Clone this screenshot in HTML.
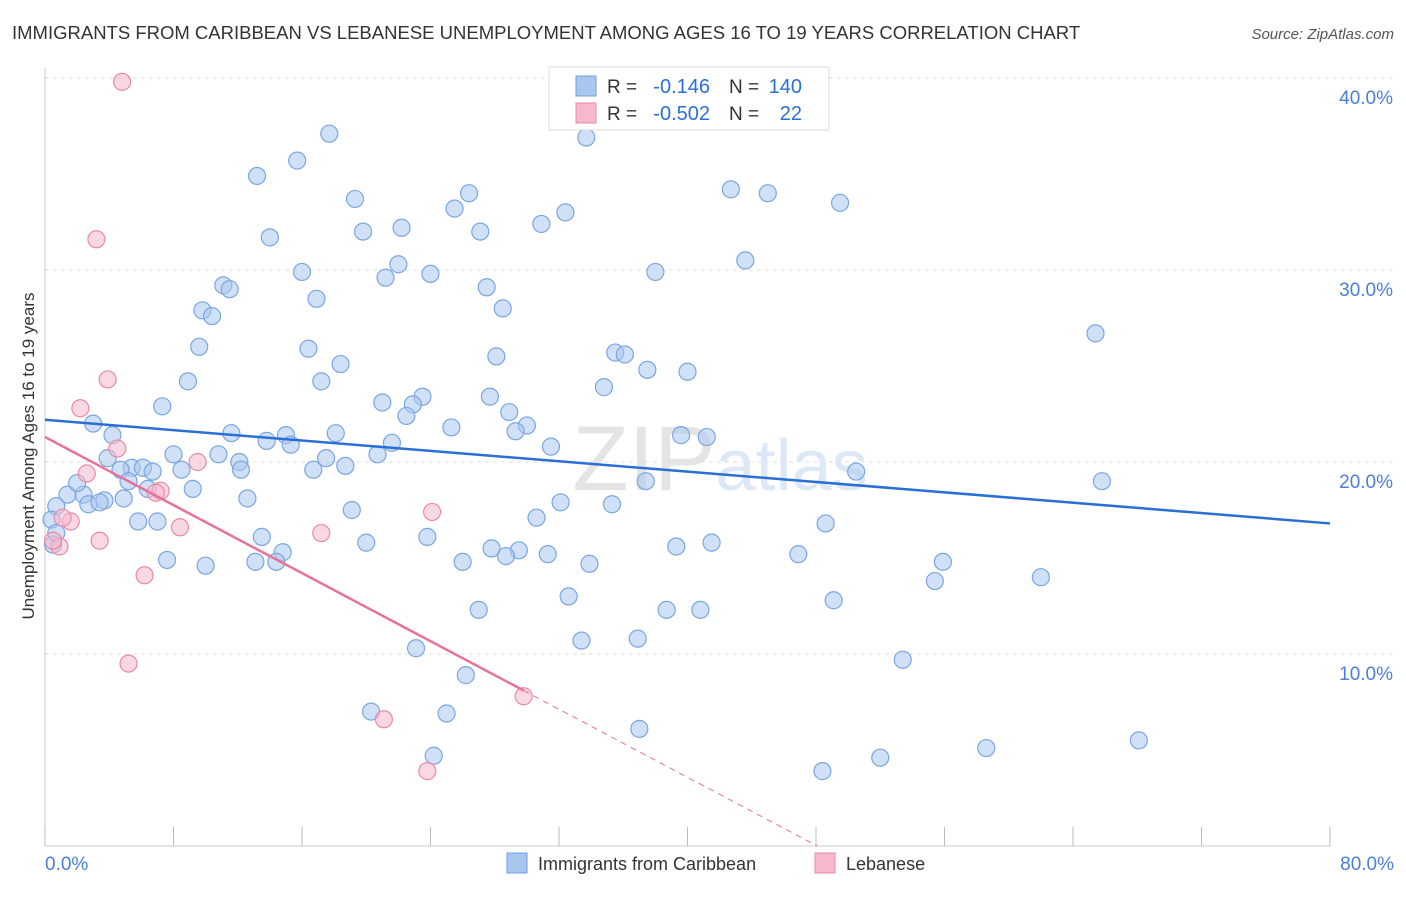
<!DOCTYPE html>
<html><head><meta charset="utf-8"><style>
body{margin:0;background:#fff;font-family:"Liberation Sans",sans-serif;}
svg text{font-family:"Liberation Sans",sans-serif;}
</style></head><body>
<svg id="chart" width="1406" height="892" viewBox="0 0 1406 892" xmlns="http://www.w3.org/2000/svg">
<text x="12" y="39" font-size="18.5" fill="#333">IMMIGRANTS FROM CARIBBEAN VS LEBANESE UNEMPLOYMENT AMONG AGES 16 TO 19 YEARS CORRELATION CHART</text>
<text x="1394" y="39" font-size="15" fill="#555" text-anchor="end" font-style="italic">Source: ZipAtlas.com</text>
<g id="grid"></g>
<g id="axes"></g>
<text x="720" y="490" font-size="92" fill="#e4e4e4" text-anchor="middle" font-family="Liberation Serif">ZIP<tspan fill="#dce8f6" font-family="Liberation Sans" font-size="72">atlas</tspan></text>
<g id="blue-dots"></g>
<g id="pink-dots"></g>
<g id="lines"></g>
<text transform="translate(34,456) rotate(-90)" font-size="17" fill="#333" text-anchor="middle">Unemployment Among Ages 16 to 19 years</text>
<g>
<rect x="549" y="67" width="280" height="63" fill="#fff" stroke="#ddd"/>
<rect x="576" y="76" width="20" height="20" fill="#a9c6ee" stroke="#6f9fe0"/>
<rect x="576" y="103" width="20" height="20" fill="#f5b8cc" stroke="#e98aa8"/>
<text x="607" y="93" font-size="19" fill="#333">R =</text>
<text x="710" y="93" font-size="20" fill="#2a6fd6" text-anchor="end">-0.146</text>
<text x="729" y="93" font-size="19" fill="#333">N =</text>
<text x="802" y="93" font-size="20" fill="#2a6fd6" text-anchor="end">140</text>
<text x="607" y="120" font-size="19" fill="#333">R =</text>
<text x="710" y="120" font-size="20" fill="#2a6fd6" text-anchor="end">-0.502</text>
<text x="729" y="120" font-size="19" fill="#333">N =</text>
<text x="802" y="120" font-size="20" fill="#2a6fd6" text-anchor="end">22</text>
</g>
<g>
<rect x="507" y="853" width="20" height="20" fill="#a9c6ee" stroke="#6f9fe0"/>
<text x="538" y="870" font-size="18" fill="#333">Immigrants from Caribbean</text>
<rect x="815" y="853" width="20" height="20" fill="#f5b8cc" stroke="#e98aa8"/>
<text x="846" y="870" font-size="18" fill="#333">Lebanese</text>
</g>
</svg>
<script>
const blueX=[17.7,33.7,15.7,13.2,19.3,26.4,25.5,42.7,45.0,49.5,32.4,30.9,22.2,19.8,27.1,14.0,43.6,22.0,21.2,24.0,16.0,38.0,11.1,11.5,27.5,16.9,9.8,10.4,28.5,65.4,9.6,16.4,28.1,35.5,36.1,18.4,37.5,40.0,8.9,17.2,34.8,27.7,23.5,21.0,22.9,7.3,22.5,28.9,3.0,30.0,25.3,29.3,4.2,11.6,18.1,15.0,39.6,41.2,13.8,15.3,21.6,31.5,8.0,10.8,20.7,3.9,17.5,12.1,5.4,6.1,18.7,8.5,6.7,4.7,12.2,16.7,50.5,37.4,65.8,5.2,6.4,9.2,1.4,2.4,2.0,4.9,12.6,3.7,2.7,3.4,35.3,32.1,19.1,30.6,5.8,7.0,48.6,13.5,23.8,27.8,29.5,20.0,41.5,39.3,31.3,14.8,28.7,46.9,7.6,13.1,10.0,26.0,14.4,33.9,55.9,55.4,62.0,32.6,49.1,27.0,38.7,40.8,33.4,36.9,23.1,53.4,26.2,20.3,25.0,37.0,68.1,58.6,24.2,52.0,48.4,0.7,0.4,0.5,0.7];
const blueY=[37.1,36.9,35.7,34.9,33.7,34.0,33.2,34.2,34.0,33.5,33.0,32.4,32.2,32.0,32.0,31.7,30.5,30.3,29.6,29.8,29.9,29.9,29.2,29.0,29.1,28.5,27.9,27.6,28.0,26.7,26.0,25.9,25.5,25.7,25.6,25.1,24.8,24.7,24.2,24.2,23.9,23.4,23.4,23.1,23.0,22.9,22.4,22.6,22.0,21.9,21.8,21.6,21.4,21.5,21.5,21.4,21.4,21.3,21.1,20.9,21.0,20.8,20.4,20.4,20.4,20.2,20.2,20.0,19.7,19.7,19.8,19.6,19.5,19.6,19.6,19.6,19.5,19.0,19.0,19.0,18.6,18.6,18.3,18.3,18.9,18.1,18.1,18.0,17.8,17.9,17.8,17.9,17.5,17.1,16.9,16.9,16.8,16.1,16.1,15.5,15.4,15.8,15.8,15.6,15.2,15.3,15.1,15.2,14.9,14.8,14.6,14.8,14.8,14.7,14.8,13.8,14.0,13.0,12.8,12.3,12.3,12.3,10.7,10.8,10.3,9.7,8.9,7.0,6.9,6.1,5.5,5.1,4.7,4.6,3.9,17.7,17.0,15.7,16.3];
const pinkX=[4.8,3.2,3.9,2.2,4.5,9.5,2.6,7.2,6.9,1.6,1.1,0.9,0.5,3.4,8.4,17.2,24.1,6.2,5.2,21.1,23.8,29.8];
const pinkY=[39.8,31.6,24.3,22.8,20.7,20.0,19.4,18.5,18.4,16.9,17.1,15.6,15.9,15.9,16.6,16.3,17.4,14.1,9.5,6.6,3.9,7.8];
const blueTrend=[22.2,16.8];
const pinkTrend=[21.3,-0.443];
const pinkSolidEnd=29.8;
const xTicks=[0,8,16,24,32,40,48,56,64,72,80];
const yTicks=[10,20,30,40];
const NS='http://www.w3.org/2000/svg';
const X0=45,X1=1330,Y0=846,PY=19.2;
const sx=v=>X0+(X1-X0)*v/80;
const sy=v=>Y0-v*PY;
function mk(tag,attrs,parent){const e=document.createElementNS(NS,tag);for(const k in attrs)e.setAttribute(k,attrs[k]);parent.appendChild(e);return e;}
const grid=document.getElementById('grid'),axes=document.getElementById('axes');
yTicks.forEach(t=>{
 const l=mk('line',{x1:X0,x2:1394,y1:sy(t),y2:sy(t),stroke:'#ddd','stroke-dasharray':'4,4'},grid);
 
 
 const tx=mk('text',{x:1393,y:sy(t)+26,'font-size':19,fill:'#4a7fd6','text-anchor':'end'},axes);
 tx.textContent=t.toFixed(1)+'%';
 
 
});
const ya=mk('line',{x1:X0,x2:X0,y1:68,y2:Y0,stroke:'#ccc'},axes);


const xa=mk('line',{x1:X0,x2:X1,y1:Y0,y2:Y0,stroke:'#ccc'},axes);


xTicks.forEach(t=>{
 const l=mk('line',{x1:sx(t),x2:sx(t),y1:827,y2:Y0,stroke:'#bbb'},axes);
 
 
});
const xl0=mk('text',{x:45,y:870,'font-size':19,fill:'#4a7fd6'},axes);xl0.textContent='0.0%';


const xl1=mk('text',{x:1394,y:870,'font-size':19,fill:'#4a7fd6','text-anchor':'end'},axes);xl1.textContent='80.0%';


const bd=document.getElementById('blue-dots');
blueX.forEach((v,i)=>{
 const c=mk('circle',{cx:sx(v),cy:sy(blueY[i]),r:8.5,fill:'rgba(169,198,238,0.55)',stroke:'#7aa6e2','stroke-width':1.2},bd);
 
 
});
const pd=document.getElementById('pink-dots');
pinkX.forEach((v,i)=>{
 const c=mk('circle',{cx:sx(v),cy:sy(pinkY[i]),r:8.5,fill:'rgba(245,184,204,0.55)',stroke:'#e98aa8','stroke-width':1.2},pd);
 
 
});
const ln=document.getElementById('lines');
const bl=mk('line',{x1:sx(0),y1:sy(blueTrend[0]),x2:sx(80),y2:sy(blueTrend[1]),stroke:'#2a6fd6','stroke-width':2.5},ln);


const pf=x=>pinkTrend[0]+pinkTrend[1]*x;
const pl=mk('line',{x1:sx(0),y1:sy(pf(0)),x2:sx(pinkSolidEnd),y2:sy(pf(pinkSolidEnd)),stroke:'#e8719a','stroke-width':2.5},ln);


const xz=-pinkTrend[0]/pinkTrend[1];
const pdl=mk('line',{x1:sx(pinkSolidEnd),y1:sy(pf(pinkSolidEnd)),x2:sx(xz),y2:sy(0),stroke:'#e8719a','stroke-width':1,'stroke-dasharray':'6,5'},ln);


</script>
</body></html>
